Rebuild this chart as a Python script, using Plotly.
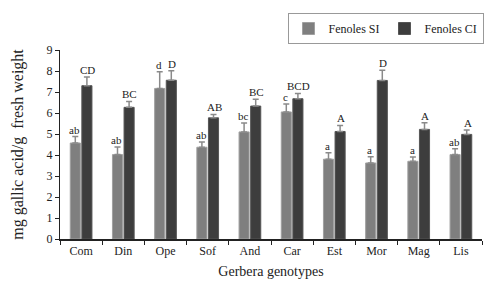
import plotly.graph_objects as go

categories = ["Com", "Din", "Ope", "Sof", "And", "Car", "Est", "Mor", "Mag", "Lis"]
si_values = [4.57, 4.02, 7.17, 4.37, 5.10, 6.05, 3.80, 3.62, 3.70, 4.02]
si_err = [0.31, 0.36, 0.80, 0.25, 0.42, 0.38, 0.31, 0.30, 0.20, 0.28]
ci_values = [7.30, 6.27, 7.56, 5.77, 6.33, 6.68, 5.12, 7.55, 5.22, 4.98]
ci_err = [0.42, 0.28, 0.45, 0.16, 0.33, 0.25, 0.29, 0.49, 0.31, 0.21]
si_letters = ["ab", "ab", "d", "ab", "bc", "c", "a", "a", "a", "ab"]
ci_letters = ["CD", "BC", "D", "AB", "BC", "BCD", "A", "D", "A", "A"]

SERIF = "Liberation Serif, Times New Roman, serif"

fig = go.Figure()
fig.add_trace(go.Bar(
    x=categories, y=si_values, name="Fenoles SI",
    marker=dict(color="#7f7f7f", line=dict(color="#a0a0a0", width=1)),
    error_y=dict(type="data", symmetric=False, array=si_err,
                 arrayminus=[0] * len(si_err), color="#8a8a8a",
                 thickness=1.5, width=3),
))
fig.add_trace(go.Bar(
    x=categories, y=ci_values, name="Fenoles CI",
    marker=dict(color="#3d3d3d", line=dict(color="#555555", width=1)),
    error_y=dict(type="data", symmetric=False, array=ci_err,
                 arrayminus=[0] * len(ci_err), color="#8a8a8a",
                 thickness=1.5, width=3),
))

annotations = []
for c, v, e, t in zip(categories, si_values, si_err, si_letters):
    annotations.append(dict(x=c, y=v + e, text=t, xref="x", yref="y",
                            showarrow=False, yanchor="bottom", xshift=-6.6,
                            yshift=-1, font=dict(family=SERIF, size=11, color="#222")))
for c, v, e, t in zip(categories, ci_values, ci_err, ci_letters):
    annotations.append(dict(x=c, y=v + e, text=t, xref="x", yref="y",
                            showarrow=False, yanchor="bottom", xshift=6.6,
                            yshift=-1, font=dict(family=SERIF, size=11, color="#222")))

fig.update_layout(
    width=500, height=293,
    margin=dict(l=52, r=26, t=42, b=62, autoexpand=False),
    paper_bgcolor="white", plot_bgcolor="white",
    barmode="group", bargap=0.45, bargroupgap=0.13,
    font=dict(family=SERIF, size=12, color="#222"),
    showlegend=True,
    legend=dict(orientation="h", xref="container", yref="container",
                x=0.755, xanchor="center", y=0.930, yanchor="middle",
                bordercolor="#999", borderwidth=1, font=dict(family=SERIF, size=12),
                itemwidth=30, tracegroupgap=0),
    annotations=annotations,
    xaxis=dict(
        showline=True, linecolor="#222", linewidth=1.5, automargin=False,
        ticks="outside", ticklen=4, tickcolor="#222", tickson="boundaries",
        tickfont=dict(family=SERIF, size=12),
        title=dict(text="Gerbera genotypes", font=dict(family=SERIF, size=14), standoff=9),
        showgrid=False,
    ),
    yaxis=dict(
        range=[0, 9], dtick=1, showline=True, linecolor="#222", linewidth=1, automargin=False,
        ticks="outside", ticklen=4, tickcolor="#222",
        tickfont=dict(family=SERIF, size=12), showgrid=False, zeroline=False,
        title=dict(text="mg gallic acid/g  fresh weight", font=dict(family=SERIF, size=16), standoff=18),
    ),
)

fig.write_html("out.html")
